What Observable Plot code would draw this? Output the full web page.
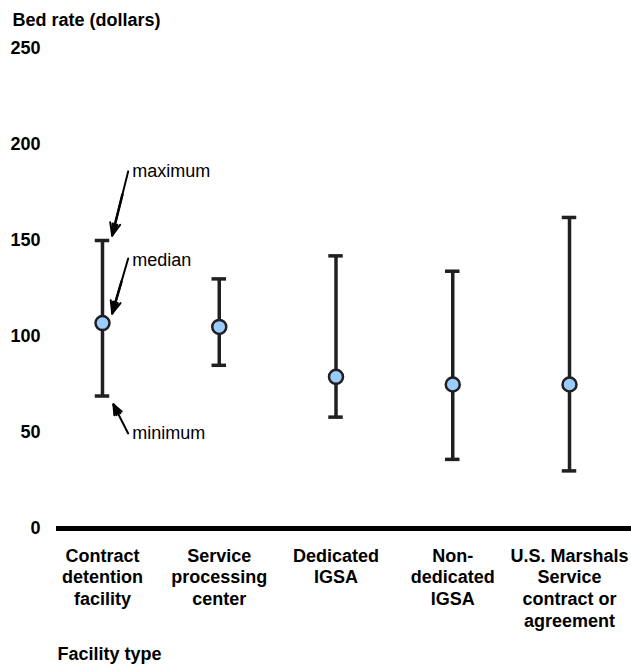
<!DOCTYPE html>
<html>
<head>
<meta charset="utf-8">
<script src="https://cdn.jsdelivr.net/npm/d3@7"></script>
<script src="https://cdn.jsdelivr.net/npm/@observablehq/plot@0.6"></script>
<style>
  html, body { margin: 0; padding: 0; background: #fff; }
  svg { font-family: "Liberation Sans", Arial, sans-serif; }
</style>
</head>
<body>
<div id="chart"></div>
<script>
// Facility types (tick labels with line breaks)
const categories = [
  "Contract detention facility",
  "Service processing center",
  "Dedicated IGSA",
  "Non-dedicated IGSA",
  "U.S. Marshals Service contract or agreement"
];
const tickLabels = [
  "Contract\ndetention\nfacility",
  "Service\nprocessing\ncenter",
  "Dedicated\nIGSA",
  "Non-\ndedicated\nIGSA",
  "U.S. Marshals\nService\ncontract or\nagreement"
];
// Bed rate (dollars)
const minimum = [69, 85, 58, 36, 30];
const median  = [107, 105, 79, 75, 75];
const maximum = [150, 130, 142, 134, 162];
const yTicks = [0, 50, 100, 150, 200, 250];

// Annotation callouts (data units, first category)
const noteLabels = ["maximum", "median", "minimum"];
const noteTextX = [0.254, 0.254, 0.254];
const noteTextY = [186, 139.6, 49.7];
const arrowFromX = [0.22, 0.22, 0.22];
const arrowFromY = [186, 140.6, 49.5];
const arrowToX = [0.083, 0.083, 0.094];
const arrowToY = [152.6, 112, 64.6];

const data = categories.map((c, i) => ({
  i, category: c, min: minimum[i], median: median[i], max: maximum[i]
}));
const notes = noteLabels.map((t, k) => ({
  text: t, tx: noteTextX[k], ty: noteTextY[k],
  x1: arrowFromX[k], y1: arrowFromY[k], x2: arrowToX[k], y2: arrowToY[k]
}));

const dark = "#231f20";
const capHalf = 0.062;

const chart = Plot.plot({
  width: 631,
  height: 666,
  marginLeft: 56,
  marginRight: 0,
  marginTop: 48,
  marginBottom: 138,
  style: { fontFamily: "'Liberation Sans', Arial, sans-serif", background: "#fff" },
  x: { type: "linear", domain: [-0.394, 4.531] },
  y: { domain: [0, 250] },
  marks: [
    Plot.axisY({
      ticks: yTicks, tickSize: 0, tickPadding: 16, label: null,
      fontSize: 18, fontWeight: "bold", fill: "#000"
    }),
    Plot.axisX({
      ticks: d3.range(categories.length), tickFormat: i => tickLabels[i],
      tickSize: 0, tickPadding: 18, label: null,
      fontSize: 18, fontWeight: "bold", lineHeight: 1.2, fill: "#000"
    }),
    Plot.ruleY([0], { stroke: "#000", strokeWidth: 5 }),
    Plot.ruleX(data, { x: "i", y1: "min", y2: "max", stroke: dark, strokeWidth: 3.5 }),
    Plot.ruleY(data, { y: "max", x1: d => d.i - capHalf, x2: d => d.i + capHalf, stroke: dark, strokeWidth: 3.5 }),
    Plot.ruleY(data, { y: "min", x1: d => d.i - capHalf, x2: d => d.i + capHalf, stroke: dark, strokeWidth: 3.5 }),
    Plot.dot(data, { x: "i", y: "median", r: 7, fill: "#99ccff", stroke: dark, strokeWidth: 2.5 }),
    Plot.arrow(notes, { x1: "x1", y1: "y1", x2: "x2", y2: "y2", stroke: "#000", strokeWidth: 2, headLength: 10, headAngle: 45 }),
    Plot.arrow(notes, { x1: "x1", y1: "y1", x2: "x2", y2: "y2", stroke: "#000", strokeWidth: 2.5, headLength: 7, headAngle: 22, insetStart: 24 }),
    Plot.text(notes, { x: "tx", y: "ty", text: "text", textAnchor: "start", fontSize: 18, fill: "#000" }),
    Plot.text(["Bed rate (dollars)"], { frameAnchor: "top-left", textAnchor: "start", dx: -44, dy: -35, fontSize: 18, fontWeight: "bold", fill: "#000" }),
    Plot.text(["Facility type"], { frameAnchor: "bottom-left", textAnchor: "start", dx: 1, dy: 131, fontSize: 18, fontWeight: "bold", fill: "#000" })
  ]
});
document.getElementById("chart").appendChild(chart);
</script>
</body>
</html>
